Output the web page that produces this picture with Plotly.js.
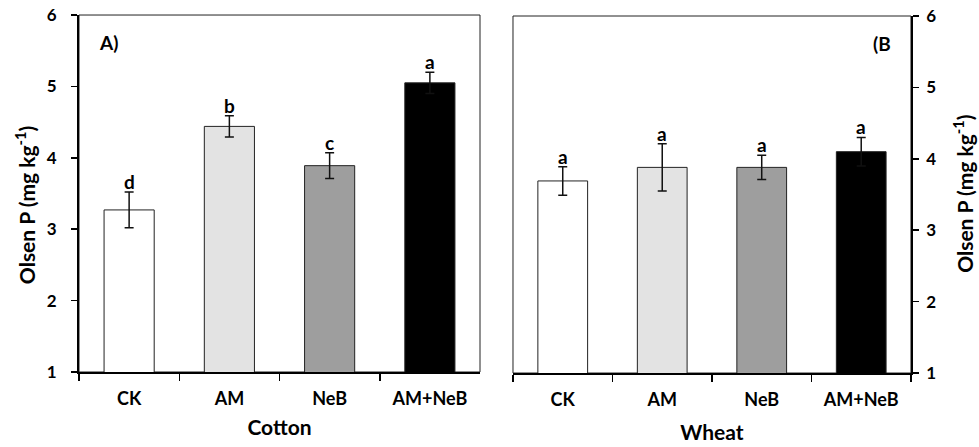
<!DOCTYPE html>
<html>
<head>
<meta charset="utf-8">
<script src="https://cdn.plot.ly/plotly-3.0.1.min.js"></script>
<style>html,body{margin:0;padding:0;background:#fff;}#chart{width:979px;height:447px;}</style>
</head>
<body>
<div id="chart"></div>
<script>
const categories = ["CK", "AM", "NeB", "AM+NeB"];
const cottonValues = [3.27, 4.44, 3.89, 5.05];
const cottonErrors = [0.25, 0.15, 0.18, 0.15];
const cottonLetters = ["d", "b", "c", "a"];
const wheatValues = [3.69, 3.88, 3.88, 4.10];
const wheatErrors = [0.20, 0.33, 0.17, 0.20];
const wheatLetters = ["a", "a", "a", "a"];
const barColors = ["#ffffff", "#e3e3e3", "#9e9e9e", "#000000"];
const yTicks = [1, 2, 3, 4, 5, 6];

const FONT = "Lato, 'Open Sans', sans-serif";
const yTitle = "Olsen P (mg kg<sup>-1</sup>)";

function barTrace(vals, errs, xa, ya) {
  return {
    type: "bar", x: categories, y: vals, xaxis: xa, yaxis: ya, width: 0.5,
    marker: {color: barColors, line: {color: "#222", width: 1}},
    error_y: {type: "data", array: errs, visible: true, color: "#111", thickness: 1.5, width: 4.5},
    hoverinfo: "skip", showlegend: false
  };
}

const traces = [
  barTrace(cottonValues, cottonErrors, "x", "y"),
  barTrace(wheatValues, wheatErrors, "x2", "y2")
];

const letterFont = {family: FONT, size: 19, color: "#000", weight: 700};
const yTitleFont = {family: FONT, size: 21, color: "#000", weight: 700};
const annotations = [];
categories.forEach((c, i) => {
  annotations.push({x: c, y: cottonValues[i] + cottonErrors[i], xref: "x", yref: "y", text: cottonLetters[i],
    showarrow: false, yanchor: "bottom", yshift: -3, font: letterFont});
  annotations.push({x: c, y: wheatValues[i] + wheatErrors[i], xref: "x2", yref: "y2", text: wheatLetters[i],
    showarrow: false, yanchor: "bottom", yshift: -3, font: letterFont});
});
annotations.push({x: 0.099, y: 0.905, xref: "paper", yref: "paper", text: "A)", showarrow: false, xanchor: "left", yanchor: "middle",
  font: letterFont});
annotations.push({x: 0.912, y: 0.903, xref: "paper", yref: "paper", text: "(B", showarrow: false, xanchor: "right", yanchor: "middle",
  font: letterFont});
// y-axis titles (placed as rotated annotations to match the reference's off-centre position)
annotations.push({x: 0.0255, y: 0.541, xref: "paper", yref: "paper", text: yTitle, textangle: -90, showarrow: false,
  xanchor: "center", yanchor: "middle", font: yTitleFont});
annotations.push({x: 0.9835, y: 0.566, xref: "paper", yref: "paper", text: yTitle, textangle: -90, showarrow: false,
  xanchor: "center", yanchor: "middle", font: yTitleFont});

const tickFont = {family: FONT, size: 17, color: "#000", weight: 700};
const catFont = {family: FONT, size: 18, color: "#000", weight: 700};
const titleFont = {family: FONT, size: 21, color: "#000", weight: 700};

function xAxis(domain, anchor, title, standoff) {
  return {
    domain: domain, anchor: anchor, type: "category", range: [-0.5, 3.5],
    showline: true, linecolor: "#000", linewidth: 2, ticks: "outside", ticklen: 7, tickwidth: 1.5, tickcolor: "#000",
    tickson: "boundaries", tickfont: catFont, ticklabelstandoff: 9, showgrid: false, zeroline: false,
    title: {text: title, font: titleFont, standoff: standoff}, automargin: false, fixedrange: true
  };
}
function yAxis(domain, anchor, side, labelStandoff) {
  return {
    domain: domain, anchor: anchor, side: side, range: [1, 6], tickvals: yTicks,
    showline: true, linecolor: "#000", linewidth: 2, ticks: "outside", ticklen: 6, tickwidth: 1.5, tickcolor: "#000",
    tickfont: tickFont, ticklabelstandoff: labelStandoff, showgrid: false, zeroline: false,
    automargin: false, fixedrange: true
  };
}

const layout = {
  width: 979, height: 447, margin: {l: 0, r: 0, t: 0, b: 0},
  paper_bgcolor: "#fff", plot_bgcolor: "#fff", bargap: 0.5,
  xaxis: xAxis([0.0807, 0.4903], "y", "Cotton", 13),
  yaxis: yAxis([0.1678, 0.9664], "x", "left", 11),
  xaxis2: xAxis([0.524, 0.9305], "y2", "Wheat", 17),
  yaxis2: yAxis([0.1655, 0.9642], "x2", "right", 4),
  shapes: [
    {type: "rect", xref: "x domain", yref: "y domain", x0: 0, x1: 1, y0: 0, y1: 1, line: {color: "#222", width: 1}, layer: "below"},
    {type: "rect", xref: "x2 domain", yref: "y2 domain", x0: 0, x1: 1, y0: 0, y1: 1, line: {color: "#222", width: 1}, layer: "below"}
  ],
  annotations: annotations,
  font: {family: FONT, color: "#000"}
};

Plotly.newPlot("chart", traces, layout, {displayModeBar: false, staticPlot: true});
</script>
</body>
</html>
